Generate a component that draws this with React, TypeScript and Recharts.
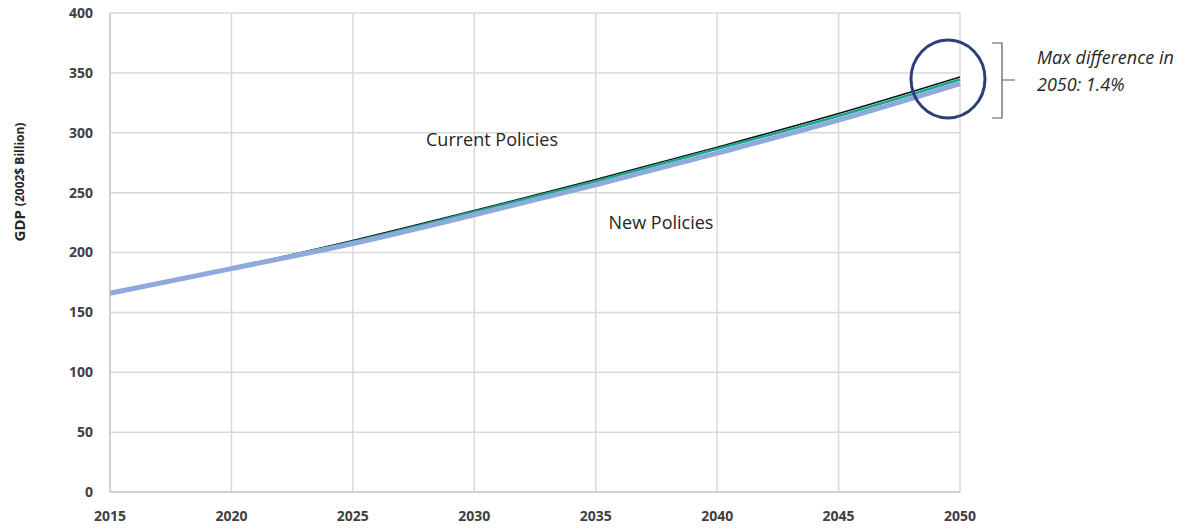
import React from 'react';
import { LineChart, Line, XAxis, YAxis, CartesianGrid } from 'recharts';

const years = [2015, 2020, 2025, 2030, 2035, 2040, 2045, 2050];
const currentPolicies = [166, 187, 210, 235, 261, 288, 316, 346.5];
const middleCase = [166, 187, 209, 234, 259.5, 286.5, 314, 344.5];
const newPolicies = [166, 186.5, 207.5, 231.5, 256.5, 283, 310.5, 341];
const yTicks = [0, 50, 100, 150, 200, 250, 300, 350, 400];

const data = years.map((year, i) => ({
  year,
  current: currentPolicies[i],
  middle: middleCase[i],
  newp: newPolicies[i],
}));

const FONT = 'Open Sans, sans-serif';

export default function App() {
  return (
    <div style={{ position: 'absolute', left: 0, top: 0, width: 1197, height: 529, background: '#fff', fontFamily: FONT }}>
      <LineChart width={1197} height={529} data={data} margin={{ top: 13, right: 237, bottom: 7, left: 0 }}>
        <CartesianGrid stroke="#d9d9d9" strokeWidth={1.5} />
        <XAxis
          dataKey="year"
          type="number"
          domain={[2015, 2050]}
          ticks={years}
          height={30}
          tickSize={0}
          tickMargin={19}
          stroke="#bfbfbf"
          tick={{ fill: '#404040', fontSize: 14, fontWeight: 700, fontFamily: FONT }}
        />
        <YAxis
          domain={[0, 400]}
          ticks={yTicks}
          width={110}
          tickSize={0}
          tickMargin={17}
          stroke="#bfbfbf"
          tick={{ fill: '#404040', fontSize: 14, fontWeight: 700, fontFamily: FONT }}
        />
        <Line type="monotone" dataKey="current" stroke="#111111" strokeWidth={1.5} dot={false} isAnimationActive={false} />
        <Line type="monotone" dataKey="middle" stroke="#1aa68f" strokeWidth={2.5} dot={false} isAnimationActive={false} />
        <Line type="monotone" dataKey="newp" stroke="#8eaadb" strokeWidth={5} dot={false} isAnimationActive={false} />
      </LineChart>
      <svg width={1197} height={529} style={{ position: 'absolute', left: 0, top: 0, pointerEvents: 'none' }}>
        <text x={19} y={182} transform="rotate(-90 19 182)" textAnchor="middle" dominantBaseline="central" fontFamily={FONT} fontWeight={700} fontSize={15} fill="#262626">
          GDP <tspan fontSize={12}>(2002$ Billion)</tspan>
        </text>
        <text x={492} y={146} textAnchor="middle" fontFamily={FONT} fontSize={18} fill="#262626">Current Policies</text>
        <text x={661} y={229} textAnchor="middle" fontFamily={FONT} fontSize={18} fill="#262626">New Policies</text>
        <ellipse cx={948} cy={79} rx={37} ry={39} fill="none" stroke="#2f3e7a" strokeWidth={3} />
        <path d="M992 43 H1002 V118 H992 M1002 80 H1015" fill="none" stroke="#595959" strokeWidth={1.2} />
        <text x={1037} y={64} fontFamily={FONT} fontStyle="italic" fontSize={18} fill="#262626">Max difference in</text>
        <text x={1037} y={91} fontFamily={FONT} fontStyle="italic" fontSize={18} fill="#262626">2050: 1.4%</text>
      </svg>
    </div>
  );
}
